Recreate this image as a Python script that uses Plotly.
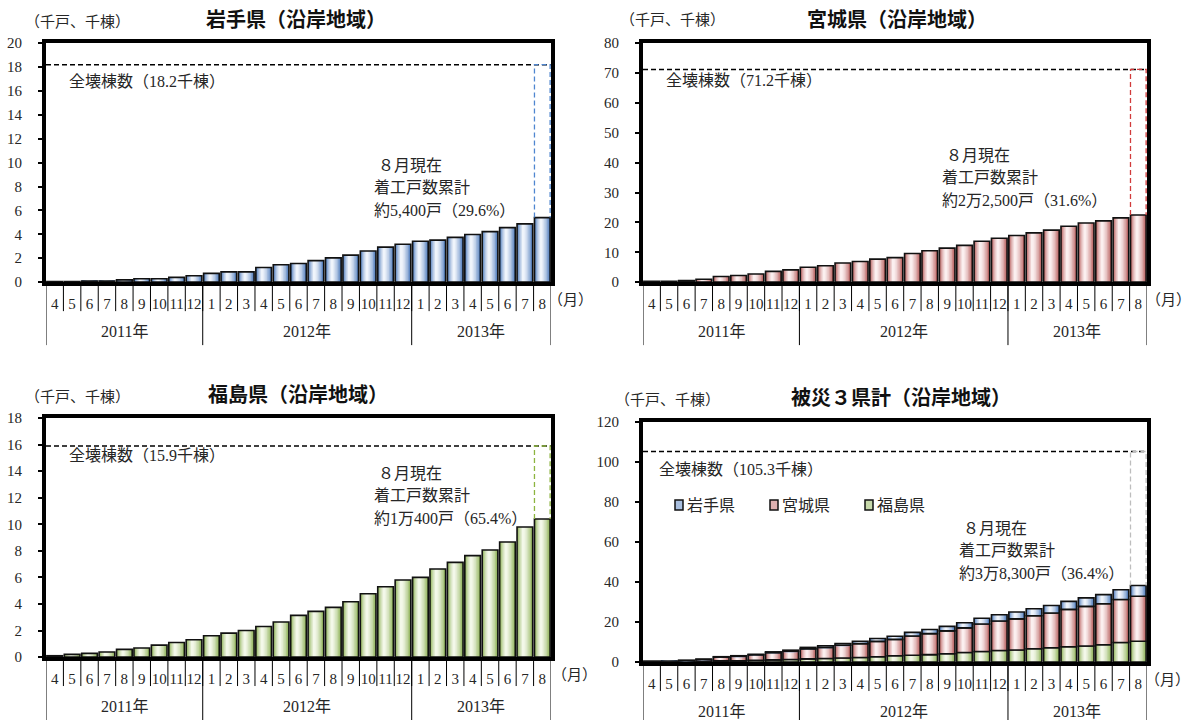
import plotly.graph_objects as go

W, H = 1191, 720

# ---- data -------------------------------------------------------------
months = ["4", "5", "6", "7", "8", "9", "10", "11", "12",
          "1", "2", "3", "4", "5", "6", "7", "8", "9", "10", "11", "12",
          "1", "2", "3", "4", "5", "6", "7", "8"]
years = ["2011年", "2012年", "2013年"]
year_counts = [9, 12, 8]

# cumulative housing starts (thousand units)
iwate = [0.04, 0.04, 0.09, 0.09, 0.19, 0.28, 0.28, 0.40, 0.54,
         0.73, 0.86, 0.86, 1.22, 1.46, 1.56, 1.80, 2.03, 2.26, 2.60, 2.93, 3.17,
         3.42, 3.52, 3.75, 3.99, 4.23, 4.56, 4.88, 5.40]
miyagi = [0.25, 0.25, 0.5, 0.95, 1.9, 2.2, 2.7, 3.6, 4.1,
          5.0, 5.5, 6.4, 6.9, 7.7, 8.2, 9.6, 10.5, 11.4, 12.3, 13.7, 14.7,
          15.6, 16.5, 17.4, 18.7, 19.8, 20.5, 21.5, 22.5]
fukushima = [0.10, 0.20, 0.28, 0.38, 0.58, 0.68, 0.90, 1.10, 1.30,
             1.60, 1.80, 2.00, 2.30, 2.64, 3.14, 3.44, 3.74, 4.17, 4.77, 5.30, 5.80,
             6.00, 6.63, 7.13, 7.64, 8.06, 8.67, 9.80, 10.40]

# totally destroyed buildings (thousand buildings)
destroyed_iwate = 18.2
destroyed_miyagi = 71.2
destroyed_fukushima = 15.9
destroyed_total = 105.3

status_iwate = ["８月現在", "着工戸数累計", "約5,400戸（29.6%）"]
status_miyagi = ["８月現在", "着工戸数累計", "約2万2,500戸（31.6%）"]
status_fukushima = ["８月現在", "着工戸数累計", "約1万400戸（65.4%）"]
status_total = ["８月現在", "着工戸数累計", "約3万8,300戸（36.4%）"]

# ---- style ------------------------------------------------------------
SERIF = "Liberation Serif, 'Noto Sans CJK JP', serif"
GOTHIC = "'Noto Sans CJK JP', sans-serif"
TXT = "#262626"

BLUE = ("#4f7cbc", "#f2f6fc")
RED = ("#b9605f", "#fcf2f2")
GREEN = ("#8fb259", "#f5f9ec")

BW = 0.9
LAYERS = [(1.00, 0.00), (0.84, 0.28), (0.68, 0.50), (0.52, 0.68),
          (0.36, 0.82), (0.22, 0.92), (0.10, 0.98)]

# vertical page mapping
Y_OFF, Y_SCALE = 7.8, 0.978


def mix(c1, c2, t):
    a = [int(c1[i:i + 2], 16) for i in (1, 3, 5)]
    b = [int(c2[i:i + 2], 16) for i in (1, 3, 5)]
    return "rgb(%d,%d,%d)" % tuple(round(a[k] + (b[k] - a[k]) * t) for k in range(3))


def px_x(p):
    return p / W


def px_y(p):
    return 1 - ((p - Y_OFF) / Y_SCALE) / H


fig = go.Figure()
xs = list(range(len(months)))
last = len(months) - 1


def add_bars(ax, values, base, colors):
    xa, ya = ax
    for frac, t in LAYERS:
        w = BW * frac
        shift = -0.09 * BW * (1 - frac)
        fig.add_bar(x=xs, y=values, base=base, width=w, offset=-w / 2 + shift,
                    marker=dict(color=mix(colors[0], colors[1], t), line=dict(width=0)),
                    xaxis=xa, yaxis=ya, showlegend=False, hoverinfo="skip")
    fig.add_bar(x=xs, y=values, base=base, width=BW, offset=-BW / 2,
                marker=dict(color="rgba(0,0,0,0)", line=dict(color="#111111", width=1.6)),
                xaxis=xa, yaxis=ya, showlegend=False, hoverinfo="skip")


def add_reference(ax, destroyed, reached, box_color):
    xa, ya = ax
    fig.add_scatter(x=[-0.5, last + 0.5], y=[destroyed, destroyed], mode="lines",
                    line=dict(color="#000000", width=1.6, dash="5px,3px"),
                    xaxis=xa, yaxis=ya, showlegend=False, hoverinfo="skip")
    x0, x1 = last - BW / 2, last + BW / 2
    fig.add_scatter(x=[x0, x0, x1, x1], y=[reached, destroyed, destroyed, reached],
                    mode="lines", line=dict(color=box_color, width=1.3, dash="5px,3px"),
                    xaxis=xa, yaxis=ya, showlegend=False, hoverinfo="skip")


# panel boxes in pixels: left, right, top, bottom
panels = [
    dict(ax=("x", "y"), box=(46, 551, 43, 282), ymax=20, dtick=2,
         title="岩手県（沿岸地域）", title_at=(296, 18), unit_at=(23, 22),
         destroyed=destroyed_iwate, status=status_iwate,
         status_at=(372, 165), label_at=(67, 81), year_drop=345, month_unit_x=546),
    dict(ax=("x2", "y2"), box=(643, 1147, 43, 282), ymax=80, dtick=10,
         title="宮城県（沿岸地域）", title_at=(897, 18), unit_at=(618, 20),
         destroyed=destroyed_miyagi, status=status_miyagi,
         status_at=(940, 155), label_at=(664, 80), year_drop=345, month_unit_x=1144),
    dict(ax=("x3", "y3"), box=(46, 551, 418, 657), ymax=18, dtick=2,
         title="福島県（沿岸地域）", title_at=(298, 393), unit_at=(23, 397),
         destroyed=destroyed_fukushima, status=status_fukushima,
         status_at=(372, 473), label_at=(67, 455), year_drop=725, month_unit_x=550),
    dict(ax=("x4", "y4"), box=(643, 1147, 422, 662), ymax=120, dtick=20,
         title="被災３県計（沿岸地域）", title_at=(901, 396), unit_at=(613, 400),
         destroyed=destroyed_total, status=status_total,
         status_at=(957, 528), label_at=(657, 469), year_drop=725, month_unit_x=1143),
]

# single-prefecture panels
add_bars(panels[0]["ax"], iwate, None, BLUE)
add_reference(panels[0]["ax"], destroyed_iwate, iwate[-1], "#4f86d0")
add_bars(panels[1]["ax"], miyagi, None, RED)
add_reference(panels[1]["ax"], destroyed_miyagi, miyagi[-1], "#d23b3b")
add_bars(panels[2]["ax"], fukushima, None, GREEN)
add_reference(panels[2]["ax"], destroyed_fukushima, fukushima[-1], "#8db43f")

# stacked total panel: Fukushima at the bottom, then Miyagi, then Iwate
base_miyagi = fukushima
base_iwate = [f + m for f, m in zip(fukushima, miyagi)]
totals = [b + i for b, i in zip(base_iwate, iwate)]
add_bars(panels[3]["ax"], fukushima, [0] * len(xs), GREEN)
add_bars(panels[3]["ax"], miyagi, base_miyagi, RED)
add_bars(panels[3]["ax"], iwate, base_iwate, BLUE)
add_reference(panels[3]["ax"], destroyed_total, totals[-1], "#bdbdbd")

layout = dict(width=W, height=H, margin=dict(l=0, r=0, t=0, b=0),
              paper_bgcolor="white", plot_bgcolor="white", barmode="overlay",
              showlegend=False, font=dict(family=SERIF, color=TXT))
annotations = []
shapes = []


def note(text, x, y, xanchor="left", size=16, family=SERIF, color=TXT, xref="paper", yref="paper"):
    annotations.append(dict(text=text, x=x, y=y, xref=xref, yref=yref,
                            xanchor=xanchor, yanchor="middle", showarrow=False,
                            font=dict(family=family, size=size, color=color)))


def vline(xref, x, y0, y1):
    shapes.append(dict(type="line", xref=xref, yref="paper", x0=x, x1=x,
                       y0=px_y(y0), y1=px_y(y1), line=dict(color="black", width=1)))


for i, p in enumerate(panels):
    left, right, top, bottom = p["box"]
    sfx = "" if i == 0 else str(i + 1)
    layout["xaxis" + sfx] = dict(domain=[px_x(left), px_x(right)], anchor=p["ax"][1],
                                 range=[-0.5, last + 0.5], tickmode="array", tickvals=xs,
                                 ticktext=months, ticks="", showline=True, mirror=True,
                                 linewidth=4, linecolor="black", showgrid=False,
                                 zeroline=False, ticklabelstandoff=5,
                                 tickfont=dict(family=SERIF, size=15, color=TXT))
    layout["yaxis" + sfx] = dict(domain=[px_y(bottom), px_y(top)], anchor=p["ax"][0],
                                 range=[0, p["ymax"]], dtick=p["dtick"], ticks="outside",
                                 ticklen=4, tickwidth=1.5, tickcolor="black", showline=True,
                                 mirror=True, linewidth=4, linecolor="black", showgrid=False,
                                 zeroline=False, ticklabelstandoff=13,
                                 tickfont=dict(family=SERIF, size=15, color=TXT))

    xref = p["ax"][0]
    # month separators and year separators under the axis
    for k in range(1, len(months)):
        vline(xref, k - 0.5, bottom, bottom + 29)
    edge = -0.5
    for n, yr in zip(year_counts, years):
        vline(xref, edge, bottom, p["year_drop"])
        note(yr, edge + n / 2, px_y(bottom + 49), xanchor="center", xref=xref)
        edge += n
    vline(xref, edge, bottom, p["year_drop"])

    # month unit
    note("（月）", px_x(p["month_unit_x"]), px_y(bottom + 18), size=15)
    # panel title and unit
    tx, ty = p["title_at"]
    note("<b>%s</b>" % p["title"], px_x(tx), px_y(ty), xanchor="center", size=20,
         family=GOTHIC, color="#111")
    ux, uy = p["unit_at"]
    note("（千戸、千棟）", px_x(ux), px_y(uy), size=15)
    # destroyed-building label
    lx, ly = p["label_at"]
    note("全壊棟数（%.1f千棟）" % p["destroyed"], px_x(lx), px_y(ly))
    # status note
    sx, sy = p["status_at"]
    for j, line in enumerate(p["status"]):
        note(line, px_x(sx + (4 if j == 0 else 0)), px_y(sy + 22.5 * j))

# legend of the stacked panel
legend_items = [("岩手県", BLUE, 675), ("宮城県", RED, 770), ("福島県", GREEN, 865)]
for name, colors, lx in legend_items:
    shapes.append(dict(type="rect", xref="paper", yref="paper",
                       x0=px_x(lx), x1=px_x(lx + 8), y0=px_y(510), y1=px_y(500),
                       fillcolor=mix(colors[0], colors[1], 0.55),
                       line=dict(color="#111", width=1.5)))
    note(name, px_x(lx + 10), px_y(505))

layout["annotations"] = annotations
layout["shapes"] = shapes
fig.update_layout(**layout)
fig.write_html("out.html")
